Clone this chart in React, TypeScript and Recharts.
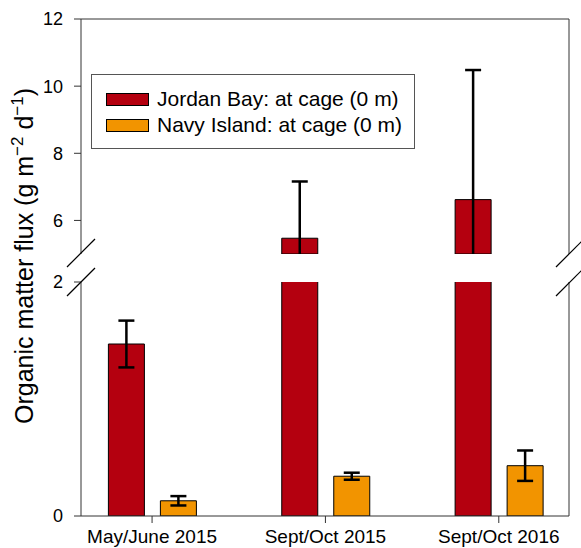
import { BarChart, Bar, XAxis, YAxis, ErrorBar, Legend } from "recharts";

const categories = ["May/June 2015", "Sept/Oct 2015", "Sept/Oct 2016"];
const jordanBay = [1.47, 5.47, 6.62];
const jordanBayErr = [0.2, 1.69, 3.86];
const navyIsland = [0.13, 0.34, 0.43];
const navyIslandErr = [0.04, 0.03, 0.13];

const upperTicks = [6, 8, 10, 12];
const lowerTicks = [0, 2];
const BREAK_LOW = 2;
const BREAK_HIGH = 5;

const JORDAN = "#b4000f";
const NAVY = "#f29400";
const AXIS = "#333";
const FONT = "'Liberation Sans', Arial, sans-serif";

// lower segment keeps every bar (clipped at the break), error bars only where they fit
const lowerData = categories.map((c, i) => ({
  x: i + 1,
  jordan: jordanBay[i],
  jordanErr: jordanBay[i] <= BREAK_LOW ? jordanBayErr[i] : null,
  navy: navyIsland[i],
  navyErr: navyIsland[i] <= BREAK_LOW ? navyIslandErr[i] : null,
}));

// upper segment only shows values that reach above the break
const upperData = categories.map((c, i) => ({
  x: i + 1,
  jordan: jordanBay[i] > BREAK_HIGH ? jordanBay[i] : null,
  jordanErr: jordanBay[i] > BREAK_HIGH ? jordanBayErr[i] : null,
  navy: navyIsland[i] > BREAK_HIGH ? navyIsland[i] : null,
  navyErr: navyIsland[i] > BREAK_HIGH ? navyIslandErr[i] : null,
}));

const W = 581;
const H = 548;
const X_DOMAIN = [0.59, 3.405];

function LegendBox() {
  const row = (color: string, label: string, top: number) => (
    <div style={{ position: "absolute", left: 14, top, height: 14, display: "flex", alignItems: "center" }}>
      <div style={{ width: 43, height: 13, background: color, border: "1px solid #000", boxSizing: "border-box" }} />
      <span style={{ marginLeft: 8, fontSize: 21, lineHeight: "14px", color: "#000", whiteSpace: "nowrap" }}>{label}</span>
    </div>
  );
  return (
    <div
      style={{
        position: "relative",
        width: 324,
        height: 75,
        border: "1px solid #555",
        boxSizing: "border-box",
        background: "#fff",
        fontFamily: FONT,
      }}
    >
      {row(JORDAN, "Jordan Bay: at cage (0 m)", 17)}
      {row(NAVY, "Navy Island: at cage (0 m)", 43)}
    </div>
  );
}

const tickStyle = { fontSize: 18, fill: "#000", fontFamily: FONT };

export default function App() {
  return (
    <div style={{ position: "absolute", left: 0, top: 0, width: W, height: H, background: "#fff", fontFamily: FONT }}>
      {/* upper segment: 5 - 12 */}
      <div style={{ position: "absolute", left: 0, top: 0 }}>
        <BarChart width={W} height={254} data={upperData} margin={{ top: 19, right: 12, bottom: 0, left: 0 }} barSize={36} barGap={16}>
          <XAxis type="number" dataKey="x" domain={X_DOMAIN} ticks={[1, 2, 3]} hide />
          <YAxis
            domain={[BREAK_HIGH, 12]}
            ticks={upperTicks}
            allowDataOverflow
            width={81}
            tickSize={7}
            tickMargin={11}
            tick={tickStyle}
            stroke={AXIS}
          />
          <Legend
            layout="horizontal"
            verticalAlign="middle"
            align="center"
            content={() => <LegendBox />}
            wrapperStyle={{ position: "absolute", left: 91, top: 74, width: 324, height: 75 }}
          />
          <Bar dataKey="jordan" fill={JORDAN} stroke="#000" strokeWidth={1} isAnimationActive={false}>
            <ErrorBar dataKey="jordanErr" width={8} stroke="#000" strokeWidth={2.5} direction="y" />
          </Bar>
          <Bar dataKey="navy" fill={NAVY} stroke="#000" strokeWidth={1} isAnimationActive={false}>
            <ErrorBar dataKey="navyErr" width={8} stroke="#000" strokeWidth={2.5} direction="y" />
          </Bar>
        </BarChart>
      </div>

      {/* lower segment: 0 - 2 */}
      <div style={{ position: "absolute", left: 0, top: 0 }}>
        <BarChart width={W} height={H} data={lowerData} margin={{ top: 282, right: 12, bottom: 0, left: 0 }} barSize={36} barGap={16}>
          <XAxis
            type="number"
            dataKey="x"
            domain={X_DOMAIN}
            ticks={[1, 2, 3]}
            tickFormatter={(v: number) => categories[v - 1]}
            height={32}
            tickSize={7}
            tickMargin={7}
            tick={{ ...tickStyle, fontSize: 19 }}
            stroke={AXIS}
          />
          <YAxis
            domain={[0, BREAK_LOW]}
            ticks={lowerTicks}
            allowDataOverflow
            width={81}
            tickSize={7}
            tickMargin={11}
            tick={tickStyle}
            stroke={AXIS}
          />
          <Bar dataKey="jordan" fill={JORDAN} stroke="#000" strokeWidth={1} isAnimationActive={false}>
            <ErrorBar dataKey="jordanErr" width={8} stroke="#000" strokeWidth={2.5} direction="y" />
          </Bar>
          <Bar dataKey="navy" fill={NAVY} stroke="#000" strokeWidth={1} isAnimationActive={false}>
            <ErrorBar dataKey="navyErr" width={8} stroke="#000" strokeWidth={2.5} direction="y" />
          </Bar>
        </BarChart>
      </div>

      {/* frame, axis breaks and y title */}
      <svg width={W} height={H} style={{ position: "absolute", left: 0, top: 0, pointerEvents: "none" }}>
        <g stroke={AXIS} strokeWidth={1}>
          <line x1={81} y1={19} x2={569} y2={19} />
          <line x1={569} y1={19} x2={569} y2={254} />
          <line x1={569} y1={282} x2={569} y2={516} />
        </g>
        <g stroke="#000" strokeWidth={1.2}>
          <line x1={67} y1={267} x2={95} y2={239} />
          <line x1={67} y1={296} x2={95} y2={268} />
          <line x1={556} y1={267} x2={584} y2={239} />
          <line x1={556} y1={296} x2={584} y2={268} />
        </g>
        <text
          transform="translate(33, 256) rotate(-90)"
          textAnchor="middle"
          fontSize={25}
          fontFamily={FONT}
          fill="#000"
        >
          Organic matter flux (g m
          <tspan fontSize={17} dy={-10}>−2</tspan>
          <tspan dy={10}> d</tspan>
          <tspan fontSize={17} dy={-10}>−1</tspan>
          <tspan dy={10}>)</tspan>
        </text>
      </svg>
    </div>
  );
}
